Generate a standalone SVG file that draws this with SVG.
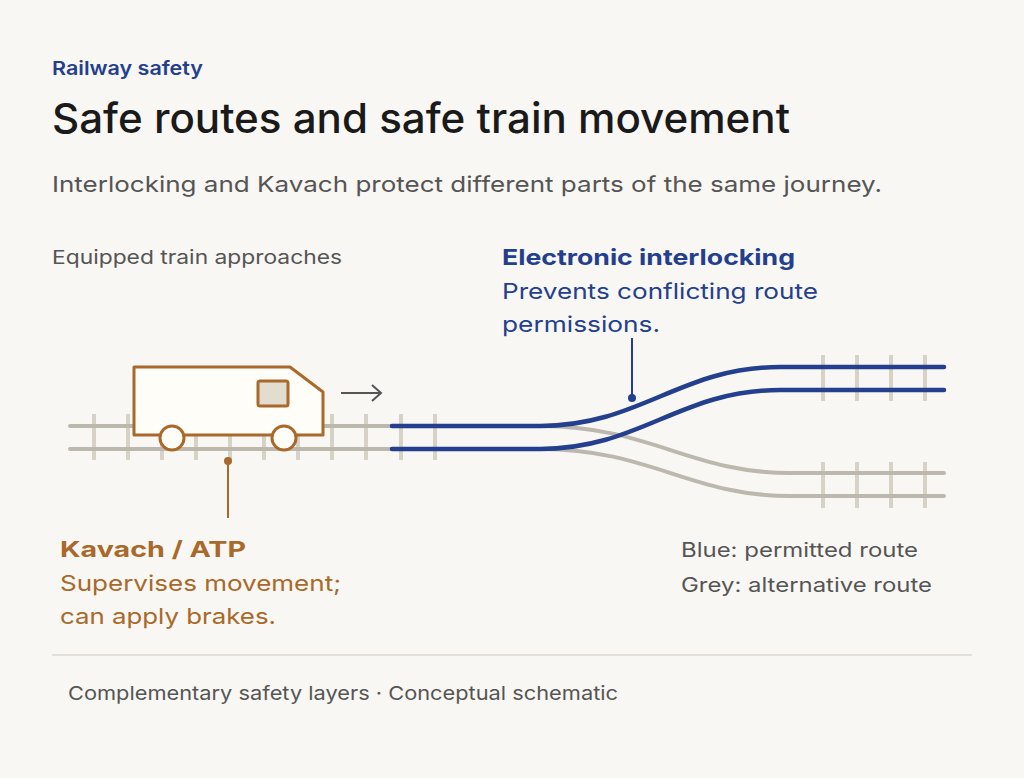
<svg xmlns="http://www.w3.org/2000/svg" width="1024" height="778" viewBox="0 0 1024 778">
<style>
text{font-family:Inter,"Liberation Sans",sans-serif}
.tie{stroke:#d6d2c6;stroke-width:4}
.rail{stroke:#bdb8ad;stroke-width:4;fill:none;stroke-linecap:round}
.blue{stroke:#233f8e;stroke-width:4.5;fill:none;stroke-linecap:round}
.g{fill:#555}
</style>
<rect width="1024" height="778" fill="#f9f7f3"/>
<text x="52" y="75" font-size="19" font-weight="600" fill="#233f8e" textLength="151" lengthAdjust="spacingAndGlyphs">Railway safety</text>
<text x="52" y="133" font-size="41" font-weight="500" fill="#1a1a1a" textLength="738" lengthAdjust="spacingAndGlyphs">Safe routes and safe train movement</text>
<text x="52" y="192" font-size="22" class="g" textLength="830" lengthAdjust="spacingAndGlyphs">Interlocking and Kavach protect different parts of the same journey.</text>
<text x="52" y="264" font-size="19" class="g" textLength="290" lengthAdjust="spacingAndGlyphs">Equipped train approaches</text>
<g id="tracks">
<g class="tie">
<path d="M94 414V460M128 414V460M162 414V460M196 414V460M230 414V460M264 414V460M298 414V460M332 414V460M366 414V460M401 414V460M435 414V460"/>
<path d="M823 355V401M857 355V401M891 355V401M925 355V401M823 462V508M857 462V508M891 462V508M925 462V508"/>
</g>
<path class="rail" d="M70 426H392M70 449H392"/>
<path class="rail" d="M540 426C650 426 690 473 790 473H944M540 449C650 449 690 496 790 496H944"/>
<path class="blue" d="M392 426H540C640 426 680 367 780 367H944"/>
<path class="blue" d="M392 449H540C640 449 680 390 780 390H944"/>
</g>
<g id="train">
<path d="M134 367H290L323 392V435H134Z" fill="#fffdf8" stroke="#a8692a" stroke-width="3" stroke-linejoin="round"/>
<rect x="258" y="381" width="30" height="25" rx="2" fill="#e3ddd0" stroke="#a8692a" stroke-width="3"/>
<circle cx="172" cy="438" r="12" fill="#fffdf8" stroke="#a8692a" stroke-width="3"/>
<circle cx="284" cy="438" r="12" fill="#fffdf8" stroke="#a8692a" stroke-width="3"/>
</g>
<g id="connectors">
<path d="M341 393H381M372 385L381 393L372 401" fill="none" stroke="#555" stroke-width="2"/>
<path d="M228 461V518" stroke="#a8692a" stroke-width="2"/>
<circle cx="228" cy="461" r="4" fill="#a8692a"/>
<path d="M632 398V338" stroke="#233f8e" stroke-width="2"/>
<circle cx="632" cy="398" r="4" fill="#233f8e"/>
</g>
<g id="interlocking" fill="#233f8e">
<text x="502" y="265" font-size="22" font-weight="700" textLength="293" lengthAdjust="spacingAndGlyphs">Electronic interlocking</text>
<text x="502" y="299" font-size="22" textLength="316" lengthAdjust="spacingAndGlyphs">Prevents conflicting route</text>
<text x="502" y="332" font-size="22" textLength="158" lengthAdjust="spacingAndGlyphs">permissions.</text>
</g>
<g id="kavach" fill="#a8692a">
<text x="60" y="557" font-size="22" font-weight="700" textLength="186" lengthAdjust="spacingAndGlyphs">Kavach / ATP</text>
<text x="60" y="591" font-size="22" textLength="281" lengthAdjust="spacingAndGlyphs">Supervises movement;</text>
<text x="60" y="624" font-size="22" textLength="216" lengthAdjust="spacingAndGlyphs">can apply brakes.</text>
</g>
<g id="legend" class="g" font-size="20">
<text x="681" y="557" textLength="237" lengthAdjust="spacingAndGlyphs">Blue: permitted route</text>
<text x="681" y="592" textLength="251" lengthAdjust="spacingAndGlyphs">Grey: alternative route</text>
</g>
<path d="M52 655H972" stroke="#ddd9d0" stroke-width="1.5"/>
<text x="68" y="700" font-size="19" class="g" textLength="550" lengthAdjust="spacingAndGlyphs">Complementary safety layers · Conceptual schematic</text>
</svg>
